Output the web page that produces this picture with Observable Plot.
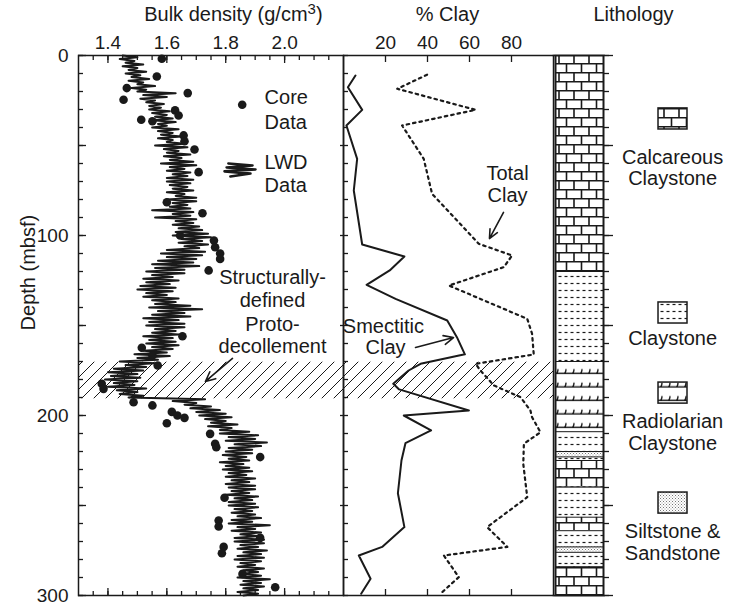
<!DOCTYPE html>
<html><head><meta charset="utf-8">
<script src="https://cdn.jsdelivr.net/npm/d3@7"></script>
<script src="https://cdn.jsdelivr.net/npm/@observablehq/plot@0.6"></script>
<style>
html,body{margin:0;padding:0;background:#fff;overflow:hidden}
#chart{position:relative;width:732px;height:606px}
#chart > svg{position:absolute;left:0;top:0}
</style></head><body>
<svg width="0" height="0" style="position:absolute;left:0;top:0">
<defs>
  <pattern id="hatch" patternUnits="userSpaceOnUse" width="12" height="12">
    <path d="M-2,2 L2,-2 M0,12 L12,0 M10,14 L14,10" stroke="#1a1a1a" stroke-width="1" fill="none"/>
  </pattern>
  <pattern id="brick" patternUnits="userSpaceOnUse" width="15" height="18">
    <rect width="15" height="18" fill="#fff"/>
    <path d="M0,0.8 H15 M0,9.8 H15 M4,0 V9 M11.5,9 V18" stroke="#1a1a1a" stroke-width="1.6" fill="none"/>
  </pattern>
  <pattern id="dash" patternUnits="userSpaceOnUse" width="6" height="7">
    <rect width="6" height="7" fill="#fff"/>
    <path d="M0.5,3.5 H3.5" stroke="#1a1a1a" stroke-width="1.2"/>
  </pattern>
  <pattern id="radio" patternUnits="userSpaceOnUse" width="16" height="13.5">
    <rect width="16" height="13.5" fill="#fff"/>
    <path d="M0,9 H16 M3,9 Q6,9 6,4.5 M11,9 Q14,9 14,4.5" stroke="#1a1a1a" stroke-width="1.4" fill="none"/>
  </pattern>
  <pattern id="silt" patternUnits="userSpaceOnUse" width="3" height="3">
    <rect width="3" height="3" fill="#fff"/>
    <rect x="0" y="0" width="1" height="1" fill="#777"/>
    <rect x="1.5" y="1.5" width="1" height="1" fill="#999"/>
  </pattern>
</defs></svg>
<div id="chart"></div>
<script>
// ---------------- data ----------------
// LWD bulk density log, one reading per metre from 0 m (g/cm3)
const lwdStart = 0, lwdStep = 1;
const lwdDensity = [
 1.45,1.50,1.44,1.49,1.46,1.52,1.45,1.50,1.47,1.53,
 1.46,1.51,1.48,1.54,1.47,1.52,1.50,1.56,1.48,1.53,
 1.50,1.63,1.52,1.60,1.51,1.56,1.53,1.59,1.54,1.58,
 1.54,1.61,1.55,1.60,1.56,1.62,1.55,1.63,1.57,1.60,
 1.55,1.64,1.57,1.62,1.58,1.65,1.57,1.62,1.60,1.66,
 1.56,1.67,1.59,1.64,1.60,1.68,1.59,1.65,1.61,1.69,
 1.58,1.70,1.61,1.66,1.60,1.68,1.62,1.67,1.60,1.69,
 1.60,1.68,1.61,1.67,1.62,1.69,1.60,1.66,1.63,1.70,
 1.60,1.70,1.62,1.67,1.61,1.68,1.55,1.69,1.62,1.68,
 1.56,1.70,1.63,1.69,1.62,1.71,1.64,1.72,1.63,1.74,
 1.62,1.75,1.65,1.72,1.64,1.74,1.66,1.71,1.60,1.73,
 1.58,1.72,1.60,1.70,1.57,1.69,1.55,1.71,1.56,1.66,
 1.53,1.66,1.55,1.62,1.52,1.64,1.53,1.61,1.51,1.63,
 1.50,1.62,1.53,1.60,1.52,1.64,1.55,1.63,1.56,1.68,
 1.54,1.72,1.57,1.66,1.55,1.68,1.52,1.64,1.54,1.66,
 1.53,1.66,1.56,1.63,1.55,1.64,1.52,1.62,1.54,1.63,
 1.53,1.64,1.55,1.62,1.52,1.60,1.49,1.61,1.50,1.57,
 1.44,1.56,1.46,1.53,1.42,1.52,1.40,1.50,1.41,1.51,
 1.39,1.50,1.42,1.49,1.40,1.53,1.43,1.50,1.44,1.52,
 1.47,1.73,1.62,1.70,1.66,1.75,1.68,1.78,1.70,1.80,
 1.71,1.82,1.73,1.80,1.75,1.84,1.74,1.82,1.78,1.88,
 1.78,1.91,1.81,1.90,1.80,1.94,1.83,1.92,1.81,1.89,
 1.80,1.89,1.79,1.87,1.81,1.88,1.78,1.86,1.80,1.88,
 1.79,1.89,1.81,1.87,1.80,1.90,1.82,1.88,1.80,1.90,
 1.81,1.90,1.82,1.88,1.80,1.91,1.83,1.89,1.81,1.90,
 1.81,1.91,1.83,1.89,1.82,1.90,1.84,1.92,1.82,1.89,
 1.81,1.95,1.84,1.90,1.82,1.92,1.85,1.91,1.83,1.93,
 1.83,1.93,1.85,1.91,1.84,1.94,1.86,1.92,1.84,1.93,
 1.83,1.92,1.85,1.90,1.84,1.93,1.86,1.91,1.85,1.92,
 1.84,1.95,1.86,1.92,1.85,1.93,1.86,1.91,1.84,1.91,
 1.86
];
// Core (discrete sample) bulk density
const coreDepth   = [1.8,11.7,18.1,20.9,24.6,30.5,33.3,35.7,36.5,44.4,47.6,52.2,64.8,81.5,87.6,100.0,102.8,106.5,110.0,113.0,119.4,156.0,162.4,166.7,172.2,182.4,185.2,192.6,194.4,198.0,200.0,201.3,204.3,210.2,215.7,217.6,223.1,245.7,258.3,261.7,268.0,273.0,276.5,288.0,295.4];
const coreDensity = [1.583,1.566,1.464,1.671,1.453,1.628,1.640,1.513,1.551,1.657,1.660,1.694,1.708,1.600,1.721,1.645,1.760,1.764,1.781,1.781,1.742,1.653,1.515,1.551,1.569,1.379,1.385,1.487,1.551,1.617,1.636,1.660,1.600,1.747,1.764,1.768,1.917,1.796,1.776,1.776,1.917,1.793,1.787,1.857,1.968];
// Clay content (%)
const smectiteDepth = [11.1,17.6,30.2,38.9,57.4,75,105,111.7,119.4,127.4,135.2,147.2,156.5,166,171.3,175,182.4,185.5,197.2,200,208.3,215.4,225,243.2,262,273,277.8,290.7,299];
const smectiteClay  = [5.7,2.1,8.9,1.4,6.5,4.9,8.9,29,22,11,24.8,49.4,54,57.8,36.7,31,23.7,26.5,59.7,28.7,41.7,29.5,27.6,25.9,29,18.4,7.3,12.9,8.4];
const totalDepth = [10.7,18.5,30.2,38.9,57.4,76.9,91.7,104.6,111.1,117.6,127.8,146.3,154.6,166.1,171.3,175,183.3,189.8,197.2,201,209.3,215.7,226.9,245.4,262,273,277.8,289.8,299];
const totalClay  = [39.8,25.6,62.9,27.9,38.2,42.2,54.1,64.4,80.3,76.3,50.2,87.5,89.8,90.6,62.9,65.2,71.6,84.3,89,89.8,93.8,85.9,85.6,87.5,68.4,78,47.8,54.9,46.2];
// Structurally-defined proto-decollement (depth interval, mbsf)
const decollement = [170.4, 190.7];
// Lithology units
const lithTop    = [0,120,170,209,220,223,225,239.8,256.5,264,273,276,284];
const lithBottom = [120,170,209,220,223,225,239.8,256.5,264,273,276,284,300];
const lithType   = ["calc","clay","radio","clay","silt","clay","calc","clay","calc","clay","silt","clay","calc"];
const lithLegendType  = ["calc","clay","radio","silt"];
const lithLegendLabel = [["Calcareous","Claystone"],["Claystone"],["Radiolarian","Claystone"],["Siltstone &","Sandstone"]];
// Ticks
const densityMajorTicks = [1.4,1.6,1.8,2.0];
const densityMinorTicks = [1.35,1.4,1.45,1.5,1.55,1.6,1.65,1.7,1.75,1.8,1.85,1.9,1.95,2.0,2.05,2.1,2.15];
const depthLabelTicks = [0,100,200,300];
const depthMajorTicks = [0,50,100,150,200,250,300];
const depthMinorTicks = [0,10,20,30,40,50,60,70,80,90,100,110,120,130,140,150,160,170,180,190,200,210,220,230,240,250,260,270,280,290,300];
const clayTicks = [20,40,60,80];

// ---------------- layout / style ----------------
const W = 732, H = 606, MT = 55, MB = 11;
const ink = "#1a1a1a";
const font = '"Liberation Sans", Arial, Helvetica, sans-serif';
const style = {background: "transparent", fontFamily: font, fontSize: "20px", color: ink, overflow: "visible"};
const yOpt = {domain: [0, 300], reverse: true, axis: null};
const noText = () => "";
const patternOf = {calc: "url(#brick)", clay: "url(#dash)", radio: "url(#radio)", silt: "url(#silt)"};
const FS = 20, TFS = 19;

const lwd = lwdDensity.map((v, i) => ({depth: lwdStart + i * lwdStep, density: v}));
const core = coreDepth.map((d, i) => ({depth: d, density: coreDensity[i]}));
const band = [{top: decollement[0], bottom: decollement[1]}];
const smectite = smectiteDepth.map((d, i) => ({depth: d, clay: smectiteClay[i]}));
const total = totalDepth.map((d, i) => ({depth: d, clay: totalClay[i]}));
const lith = lithTop.map((t, i) => ({top: t, bottom: lithBottom[i], type: lithType[i]}));

// annotation anchors (data units of each panel)
const densityText = [
  {x: 1.826, y: -18.9, text: "Bulk density (g/cm³)", a: "middle"},
  {x: 1.932, y: 26.7, text: "Core", a: "start"},
  {x: 1.932, y: 41.1, text: "Data", a: "start"},
  {x: 1.932, y: 62.8, text: "LWD", a: "start"},
  {x: 1.932, y: 76.1, text: "Data", a: "start"},
  {x: 1.959, y: 126.7, text: "Structurally-", a: "middle"},
  {x: 1.959, y: 139.7, text: "defined", a: "middle"},
  {x: 1.959, y: 153.0, text: "Proto-", a: "middle"},
  {x: 1.959, y: 165.0, text: "decollement", a: "middle"}
];
const coreKey = [{density: 1.856, depth: 27.4}];
const lwdKey = [[1.809,60],[1.891,61.1],[1.803,62.2],[1.901,63.3],[1.796,64.4],[1.884,65.6],[1.816,67.2]].map(([density, depth]) => ({density, depth}));
const clayText = [
  {x: 49.5, y: -18.9, text: "% Clay", a: "middle"},
  {x: 78.1, y: 68.9, text: "Total", a: "middle"},
  {x: 78.1, y: 81.3, text: "Clay", a: "middle"},
  {x: 19.0, y: 153.9, text: "Smectitic", a: "middle"},
  {x: 20.0, y: 165.6, text: "Clay", a: "middle"}
];
const clayArrows = [{x1: 76.2, y1: 87.2, x2: 69.5, y2: 101.7}, {x1: 34.3, y1: 162.2, x2: 52.4, y2: 156.7}];
const decoArrow = [{x1: 1.823, y1: 168.3, x2: 1.731, y2: 181.1}];

function tickMarks(axis, anchor, sets) {
  return sets.map(([ticks, size]) => axis({anchor, ticks, tickSize: size, tickFormat: noText, label: null, stroke: ink, strokeWidth: 1.3}));
}
function textMarks(data) {
  return ["start", "middle", "end"].map(a => Plot.text(data.filter(d => d.a === a), {x: "x", y: "y", text: "text", textAnchor: a, lineAnchor: "bottom", fill: ink, fontSize: FS}));
}
function arrowMark(data) {
  return Plot.arrow(data, {x1: "x1", y1: "y1", x2: "x2", y2: "y2", stroke: ink, strokeWidth: 1.6, headLength: 10, headAngle: 50});
}

// ---------------- panel 1: bulk density ----------------
const plotA = Plot.plot({
  width: W, height: H, marginTop: MT, marginBottom: MB, marginLeft: 78, marginRight: W - 343,
  style, x: {domain: [1.3, 2.2], axis: null}, y: yOpt,
  marks: [
    Plot.rect(band, {x1: 1.3, x2: 2.2, y1: "top", y2: "bottom", fill: "url(#hatch)"}),
    Plot.line(lwd, {x: "density", y: "depth", stroke: ink, strokeWidth: 2}),
    Plot.dot(core, {x: "density", y: "depth", r: 4.3, fill: ink}),
    Plot.dot(coreKey, {x: "density", y: "depth", r: 4.3, fill: ink}),
    Plot.line(lwdKey, {x: "density", y: "depth", stroke: ink, strokeWidth: 2.6}),
    Plot.frame({stroke: ink, strokeWidth: 1.5}),
    ...tickMarks(Plot.axisX, "top", [[densityMinorTicks, -4], [densityMajorTicks, -7]]),
    ...tickMarks(Plot.axisX, "bottom", [[densityMinorTicks, -4], [densityMajorTicks, -7]]),
    ...tickMarks(Plot.axisY, "left", [[depthMinorTicks, -5], [depthMajorTicks, -8]]),
    ...tickMarks(Plot.axisY, "right", [[depthMajorTicks.slice(1, -1), -4]]),
    Plot.axisX({anchor: "top", ticks: densityMajorTicks, tickSize: 0, tickPadding: 7, tickFormat: d3.format(".1f"), label: null, fill: ink, fontSize: TFS}),
    Plot.axisY({anchor: "left", ticks: depthLabelTicks, tickSize: 0, tickPadding: 10, tickFormat: d => String(d), label: null, fill: ink, fontSize: TFS}),
    ...textMarks(densityText),
    Plot.text([{x: 1.130, y: 120.6}], {x: "x", y: "y", text: () => "Depth (mbsf)", rotate: -90, fill: ink, fontSize: FS}),
    arrowMark(decoArrow)
  ]
});

// ---------------- panel 2: % clay ----------------
const plotB = Plot.plot({
  width: W, height: H, marginTop: MT, marginBottom: MB, marginLeft: 343, marginRight: W - 553,
  style, x: {domain: [0, 100], axis: null}, y: yOpt,
  marks: [
    Plot.rect(band, {x1: 0, x2: 100, y1: "top", y2: "bottom", fill: "url(#hatch)"}),
    Plot.line(smectite, {x: "clay", y: "depth", stroke: ink, strokeWidth: 2}),
    Plot.line(total, {x: "clay", y: "depth", stroke: ink, strokeWidth: 2.2, strokeDasharray: "2.5,4"}),
    Plot.frame({stroke: ink, strokeWidth: 1.5}),
    ...tickMarks(Plot.axisX, "top", [[clayTicks, -6]]),
    ...tickMarks(Plot.axisX, "bottom", [[clayTicks, -6]]),
    ...tickMarks(Plot.axisY, "left", [[depthMinorTicks, -5]]),
    Plot.axisX({anchor: "top", ticks: clayTicks, tickSize: 0, tickPadding: 7, tickFormat: d => String(d), label: null, fill: ink, fontSize: TFS}),
    ...textMarks(clayText),
    arrowMark(clayArrows)
  ]
});

// ---------------- panel 3: lithology ----------------
const legend = lithLegendType.map((t, i) => ({type: t, label: lithLegendLabel[i]}));
const legendTop = [29.4, 137.2, 181.7, 242.8];      // swatch top (mbsf)
const legendLabelY = [60, 161.1, 207.2, 267.8];     // first label baseline (mbsf)
const legendRows = legend.map((d, i) => ({...d, y1: legendTop[i], y2: legendTop[i] + 11.7}));
const legendText = legend.flatMap((d, i) => d.label.map((s, j) => ({x: 2.44, y: legendLabelY[i] + j * 12.2, text: s, a: "middle"})));
const plotC = Plot.plot({
  width: W, height: H, marginTop: MT, marginBottom: MB, marginLeft: 555, marginRight: W - 603,
  style, x: {domain: [0, 1], axis: null}, y: yOpt,
  marks: [
    ...Object.keys(patternOf).map(k => Plot.rect(lith.filter(u => u.type === k), {x1: 0, x2: 1, y1: "top", y2: "bottom", fill: patternOf[k]})),
    Plot.ruleY(lith.slice(1), {y: "top", x1: 0, x2: 1, stroke: ink, strokeWidth: 1}),
    Plot.frame({stroke: ink, strokeWidth: 2}),
    Plot.ruleY([0, 300], {x1: -0.05, x2: 0, stroke: ink, strokeWidth: 1.5}),
    ...tickMarks(Plot.axisY, "right", [[depthMinorTicks, 5], [depthMajorTicks, 9]]),
    ...Object.keys(patternOf).map(k => Plot.rect(legendRows.filter(u => u.type === k), {x1: 2.146, x2: 2.75, y1: "y1", y2: "y2", fill: patternOf[k], stroke: ink, strokeWidth: 1.5})),
    ...textMarks(legendText),
    ...textMarks([{x: 1.625, y: -18.9, text: "Lithology", a: "middle"}])
  ]
});

const chart = document.getElementById("chart");
chart.append(plotA, plotB, plotC);

// superscript for g/cm3
for (const t of chart.querySelectorAll("text")) {
  if (t.childElementCount === 0 && t.textContent.includes("³")) {
    const [a, b] = t.textContent.split("³");
    t.textContent = "";
    const ns = "http://www.w3.org/2000/svg";
    const s1 = document.createElementNS(ns, "tspan"); s1.textContent = a;
    const s2 = document.createElementNS(ns, "tspan"); s2.textContent = "3"; s2.setAttribute("dy", "-7"); s2.setAttribute("font-size", "15");
    const s3 = document.createElementNS(ns, "tspan"); s3.textContent = b; s3.setAttribute("dy", "7");
    t.append(s1, s2, s3);
  }
}
</script>
</body></html>
